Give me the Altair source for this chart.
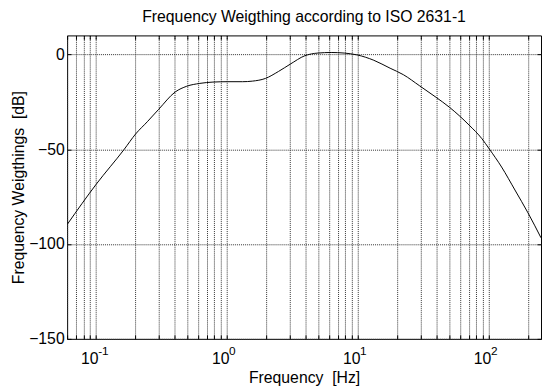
import altair as alt
import pandas as pd

# Curve values (frequency in Hz, weighting in dB)
freq_hz = [0.0605, 0.1, 0.164, 0.2, 0.246, 0.30, 0.402, 0.492, 0.619, 0.78, 1.01,
           1.31, 1.56, 1.96, 2.47, 3.03, 3.93, 4.94, 6.24, 7.85, 9.88,
           13.2, 17.6, 22.2, 29.6, 39.4, 49.8, 70.4, 88.5, 100.5, 125,
           158, 199, 250]
weight_db = [-89.4, -68.5, -50.0, -42.0, -35.5, -29.0, -19.8, -16.8, -15.3, -14.6, -14.4,
             -14.4, -14.1, -12.7, -9.0, -5.2, -0.7, 0.7, 1.0, 0.7, -0.3,
             -3.1, -7.3, -10.7, -16.6, -22.6, -27.8, -37.2, -44.5, -49.8, -59.4,
             -71.5, -83.6, -96.7]

# Axis ticks: decade labels are "10" with a raised exponent
decade_ticks = [0.1, 1, 10, 100]
decade_base = ["10", "10", "10", "10"]
decade_exp = ["-1", "0", "1", "2"]
minor_mult = [1, 2, 3, 4, 5, 6, 7, 8, 9]
decades = [-2, -1, 0, 1, 2]
x_domain = [0.06, 250]
y_ticks = [-150, -100, -50, 0]
y_domain = [-150, 10]

x_ticks = []
for d in decades:
    for m in minor_mult:
        v = round(m * 10 ** d, 10)
        if x_domain[0] - 1e-9 <= v <= x_domain[1] + 1e-9:
            x_ticks.append(v)

label_expr = "".join(
    f"datum.value === {v} ? '{l}' : " for v, l in zip(decade_ticks, decade_base)
) + "''"

df = pd.DataFrame({"f": freq_hz, "db": weight_db})
exp_df = pd.DataFrame({"f": decade_ticks, "db": [y_domain[0]] * len(decade_ticks), "e": decade_exp})

FONT = "Liberation Sans"
FS = 16

xscale = alt.Scale(type="log", domain=x_domain, nice=False)
yscale = alt.Scale(domain=y_domain, nice=False, zero=False)

base = alt.Chart(df)

main = base.mark_line(color="black", strokeWidth=1, interpolate="monotone", clip=True).encode(
    x=alt.X("f:Q", scale=xscale,
            axis=alt.Axis(orient="bottom", values=x_ticks, labelExpr=label_expr,
                          title="Frequency\u00a0 [Hz]", grid=True, gridColor="#333",
                          gridDash=[1, 1], gridWidth=1, domain=False,
                          ticks=True, tickSize=4, tickColor="black", offset=-4,
                          labelOverlap=False, labelPadding=12, labelAlign="right", labelOffset=2,
                          labelFont=FONT, labelFontSize=FS, labelColor="black", titleFont=FONT,
                          titleFontSize=FS, titleFontWeight="normal", titleColor="black",
                          titlePadding=3)),
    y=alt.Y("db:Q", scale=yscale,
            axis=alt.Axis(orient="left", values=y_ticks, title="Frequency Weigthings\u00a0 [dB]",
                          grid=True, gridColor="#333", gridDash=[1, 1], gridWidth=1,
                          domain=False, ticks=True, tickSize=4, tickColor="black", offset=-4,
                          labelPadding=3, labelFont=FONT, labelFontSize=FS, labelColor="black",
                          titleFont=FONT, titleFontSize=FS, titleFontWeight="normal",
                          titleColor="black", titlePadding=2)),
)

frame = base.mark_line(opacity=0).encode(
    x=alt.X("f:Q", scale=xscale,
            axis=alt.Axis(orient="top", values=x_ticks, labels=False, title=None, grid=False,
                          domain=False, ticks=True, tickSize=4, tickColor="black", offset=-4)),
    y=alt.Y("db:Q", scale=yscale,
            axis=alt.Axis(orient="right", values=y_ticks, labels=False, title=None, grid=False,
                          domain=False, ticks=True, tickSize=4, tickColor="black", offset=-4)),
)

exponents = alt.Chart(exp_df).mark_text(
    align="left", baseline="alphabetic", dx=2, dy=16, font=FONT, fontSize=12, color="black"
).encode(
    x=alt.X("f:Q", scale=xscale, axis=None),
    y=alt.Y("db:Q", scale=yscale, axis=None),
    text="e:N",
)

chart = alt.layer(main, frame, exponents).resolve_axis(x="independent", y="independent").properties(
    width=481, height=308,
    title=alt.TitleParams("Frequency Weigthing according to ISO 2631-1", font=FONT, fontSize=FS,
                          fontWeight="normal", color="black", offset=10),
    autosize=alt.AutoSizeParams(type="none"),
    padding={"left": 60, "top": 25, "right": 1, "bottom": 45},
).configure_view(stroke="black", strokeWidth=1)

chart.save("out.html", embed_options={"renderer": "svg", "actions": False})
